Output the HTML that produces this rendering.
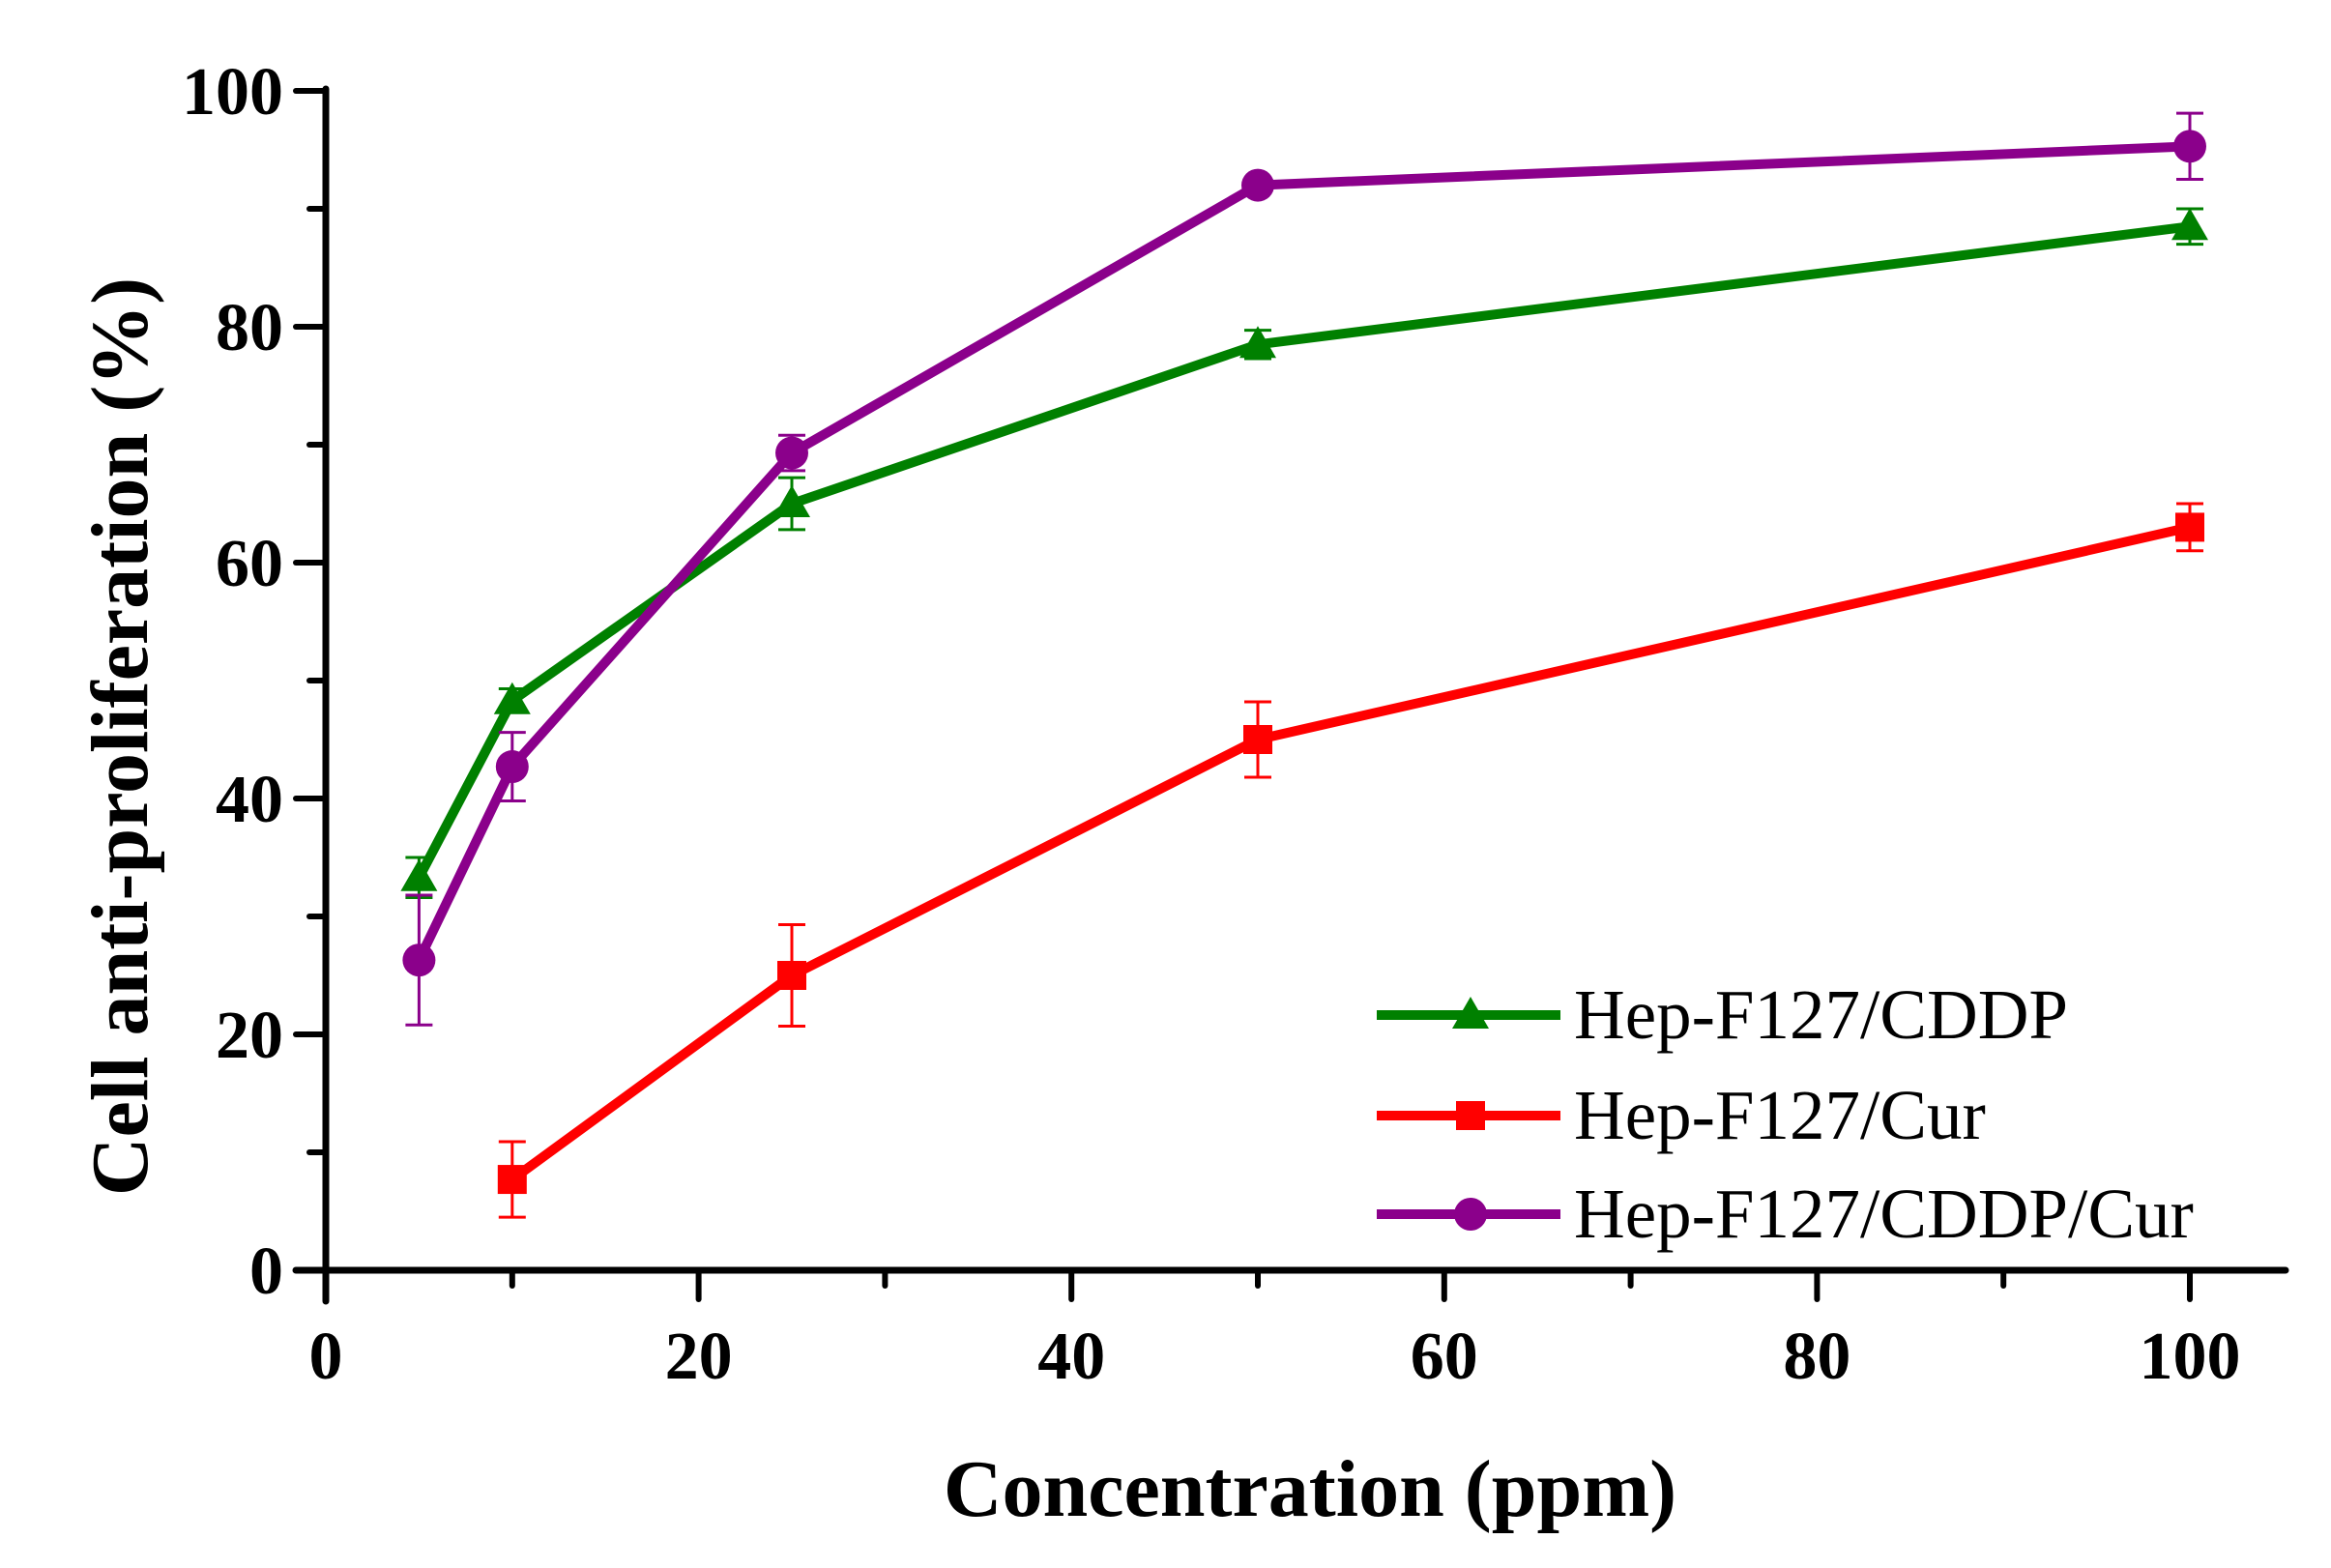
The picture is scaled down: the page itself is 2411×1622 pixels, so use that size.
<!DOCTYPE html>
<html><head><meta charset="utf-8"><style>
html,body{margin:0;padding:0;background:#fff;}
svg{display:block;}
text{font-family:"Liberation Serif",serif;}
</style></head><body>
<svg id="s" width="2411" height="1622" viewBox="0 0 2411 1622" xmlns="http://www.w3.org/2000/svg"></svg>
<script>
const s=document.getElementById('s');
const X=v=>337+v*19.28, Y=v=>1314-v*12.2;
let h='';
h+=`<line x1="${X(0)}" y1="${Y(100)-2}" x2="${X(0)}" y2="1346" stroke="#000" stroke-width="7" stroke-linecap="round"/>`;
h+=`<line x1="306" y1="${Y(0)}" x2="2364" y2="${Y(0)}" stroke="#000" stroke-width="7" stroke-linecap="round"/>`;
for(let v=0;v<=100;v+=10){const x=X(v);const maj=v%20==0;
 h+=`<line x1="${x}" y1="${Y(0)}" x2="${x}" y2="${maj?1344:1330}" stroke="#000" stroke-width="6" stroke-linecap="round"/>`;
 if(maj)h+=`<text x="${x}" y="1426" font-size="70" font-weight="bold" text-anchor="middle">${v}</text>`;}
for(let v=0;v<=100;v+=10){const y=Y(v);const maj=v%20==0;
 h+=`<line x1="${X(0)}" y1="${y}" x2="${maj?306:320}" y2="${y}" stroke="#000" stroke-width="6" stroke-linecap="round"/>`;
 if(maj)h+=`<text x="293" y="${y+24}" font-size="70" font-weight="bold" text-anchor="end">${v}</text>`;}
h+=`<text x="1355" y="1568" font-size="84" font-weight="bold" text-anchor="middle">Concentration (ppm)</text>`;
h+=`<text transform="translate(152,762) rotate(-90)" font-size="84" font-weight="bold" text-anchor="middle">Cell anti-proliferation (%)</text>`;
const series=[
 {c:'#008000',m:'tri',d:[[5,33.3,1.7],[10,48.3,1],[25,65,2.2],[50,78.5,1.2],[100,88.5,1.5]]},
 {c:'#ff0000',m:'sq',d:[[10,7.7,3.2],[25,25,4.3],[50,45,3.2],[100,63,2]]},
 {c:'#8b008b',m:'ci',d:[[5,26.3,5.5],[10,42.7,2.9],[25,69.3,1.5],[50,92,0.5],[100,95.3,2.8]]}];
function mk(m,x,y,c){
 if(m=='tri')return `<polygon points="${x},${y-19} ${x-19},${y+14} ${x+19},${y+14}" fill="${c}"/>`;
 if(m=='sq')return `<rect x="${x-15}" y="${y-15}" width="30" height="30" fill="${c}"/>`;
 return `<circle cx="${x}" cy="${y}" r="17" fill="${c}"/>`;}
for(const se of series){
 for(const [a,b,e] of se.d){const x=X(a);
  h+=`<line x1="${x}" y1="${Y(b-e)}" x2="${x}" y2="${Y(b+e)}" stroke="${se.c}" stroke-width="3"/>`;
  h+=`<line x1="${x-14}" y1="${Y(b-e)}" x2="${x+14}" y2="${Y(b-e)}" stroke="${se.c}" stroke-width="3"/>`;
  h+=`<line x1="${x-14}" y1="${Y(b+e)}" x2="${x+14}" y2="${Y(b+e)}" stroke="${se.c}" stroke-width="3"/>`;}
 h+=`<polyline points="${se.d.map(p=>X(p[0])+','+Y(p[1])).join(' ')}" fill="none" stroke="${se.c}" stroke-width="10" stroke-linejoin="round"/>`;
 for(const [a,b] of se.d)h+=mk(se.m,X(a),Y(b),se.c);}
const leg=[['Hep-F127/CDDP',1050,0],['Hep-F127/Cur',1154,1],['Hep-F127/CDDP/Cur',1256,2]];
for(const [t,y,i] of leg){const c=series[i].c;
 h+=`<line x1="1424" y1="${y}" x2="1614" y2="${y}" stroke="${c}" stroke-width="10"/>`;
 h+=mk(series[i].m,1521,y,c);
 h+=`<text x="1628" y="${y+24}" font-size="73">${t}</text>`;}
s.innerHTML=h;
</script>
</body></html>
